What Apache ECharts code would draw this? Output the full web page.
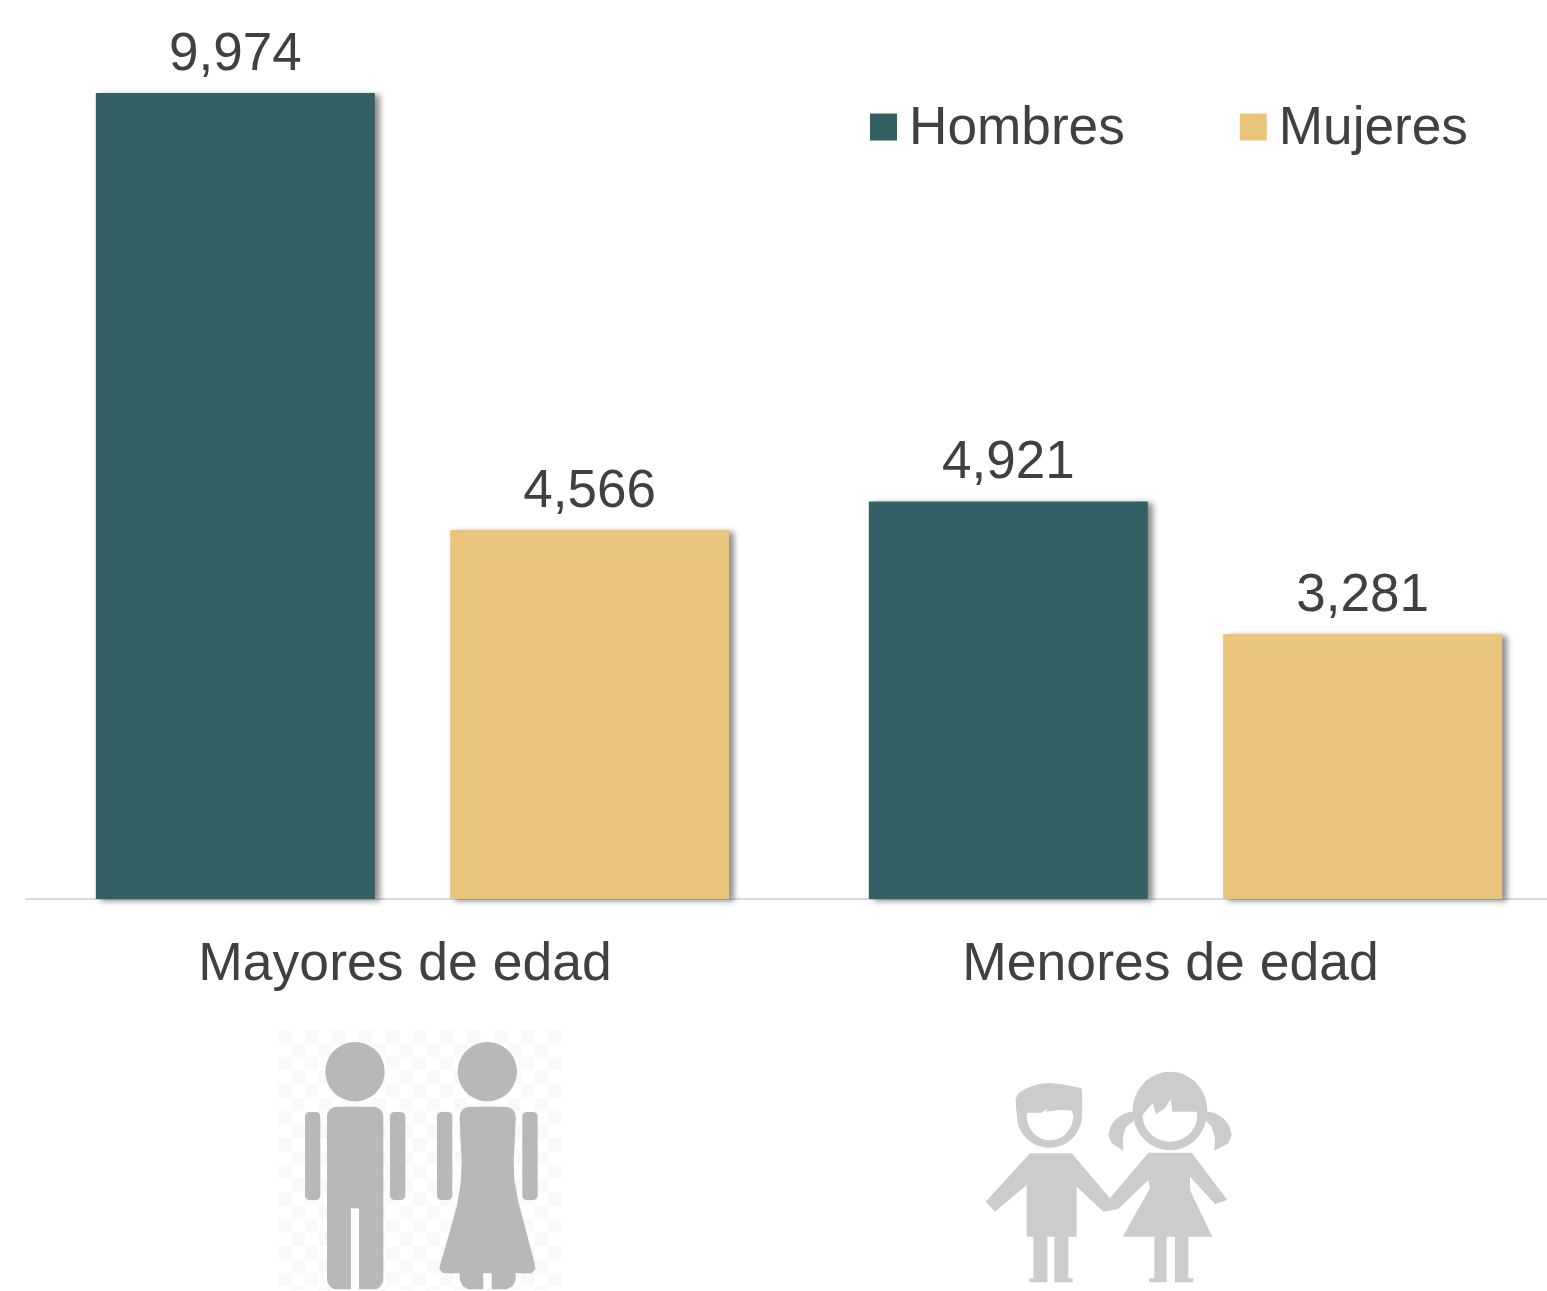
<!DOCTYPE html>
<html>
<head>
<meta charset="utf-8">
<style>html,body{margin:0;padding:0;background:#fff}#c{width:1547px;height:1291px}</style>
<script src="https://cdn.jsdelivr.net/npm/echarts@6/dist/echarts.min.js"></script>
</head>
<body>
<div id="c"></div>
<script>
const categories = ['Mayores de edad', 'Menores de edad'];
const hombres = [9974, 4921];
const mujeres = [4566, 3281];
const seriesNames = ['Hombres', 'Mujeres'];
const FONT = '"Liberation Sans", Arial, sans-serif';
const TEXT = '#404040';

const chart = echarts.init(document.getElementById('c'), null, {renderer: 'canvas'});

const adult = '#b8b8b8', kid = '#cccccc';
function poly(points, fill) { return {type: 'polygon', shape: {points}, style: {fill}}; }
function rrect(x, y, width, height, r, fill) { return {type: 'rect', shape: {x, y, width, height, r}, style: {fill}}; }
function arc(cx, cy, rx, ry, from, to) {
  const pts = [];
  for (let i = 0; i <= 36; i++) { const a = (from + (to - from) * i / 36) * Math.PI / 180; pts.push([cx + rx * Math.cos(a), cy + ry * Math.sin(a)]); }
  return pts;
}
function ell(cx, cy, rx, ry, fill) { return poly(arc(cx, cy, rx, ry, 0, 360), fill); }

// Faint checkered backdrop of the adults' pictogram
const checks = [];
for (let r = 0; r < 20; r++) for (let c = 0; c < 21; c++) {
  if ((r + c) % 2 === 0) checks.push({type: 'rect',
    shape: {x: 278 + c * 13.5, y: 1030 + r * 13.5, width: Math.min(13.5, 562 - (278 + c * 13.5)), height: Math.min(13.5, 1290 - (1030 + r * 13.5))},
    style: {fill: '#f9f9f9'}});
}

const adults = {type: 'group', x: 270, y: 1020, scaleX: 1 / 3, scaleY: 1 / 3, children: [
  ell(255, 155, 89, 89, adult),
  rrect(105, 276, 46, 264, 14, adult),
  rrect(360, 276, 46, 264, 14, adult),
  rrect(171, 260, 169, 548, 30, adult),
  rrect(243, 565, 24, 250, 0, '#ffffff'),
  ell(652, 155, 89, 89, adult),
  rrect(501, 276, 46, 264, 14, adult),
  rrect(757, 276, 46, 264, 14, adult),
  rrect(569, 260, 168, 70, 30, adult),
  poly([[569, 295], [737, 295], [735, 350], [731, 420], [733, 480], [745, 545], [770, 640], [795, 735], [796, 748], [785, 760],
        [737, 760], [737, 780], [728, 798], [710, 808], [665, 808], [665, 760], [640, 760], [640, 808], [596, 808], [578, 798],
        [569, 780], [569, 760], [520, 760], [508, 748], [510, 735], [535, 650], [560, 560], [572, 490], [575, 420], [571, 350]], adult)
]};

const kids = {type: 'group', x: 970, y: 1060, scaleX: 1 / 3, scaleY: 1 / 3, children: [
  // boy
  poly([[137, 115], [147, 98], [170, 85], [205, 72], [240, 69], [290, 75], [335, 85], [337, 120], ...arc(238, 165, 98, 98, 0, 165), [138, 140]], kid),
  poly([[170, 165], [172, 158], [215, 158], [232, 145], [228, 155], [270, 150], [305, 152], [310, 165], ...arc(240, 165, 70, 76, 0, 180)], '#ffffff'),
  poly([[180, 280], [305, 280], [420, 415], [445, 447], [400, 455], [320, 380], [320, 530], [295, 530], [295, 655], [308, 655], [308, 667], [253, 667], [253, 530], [232, 530], [232, 667], [178, 667], [178, 655], [190, 655], [190, 530], [170, 530], [170, 375], [75, 455], [47, 425]], kid),
  // girl
  poly([[495, 153], [465, 160], [440, 175], [422, 198], [415, 225], [425, 250], [460, 272], [458, 235], [468, 200], [495, 180]], kid),
  poly([[705, 153], [735, 160], [760, 175], [778, 198], [785, 225], [775, 250], [733, 272], [735, 235], [725, 200], [705, 180]], kid),
  ell(600, 153, 112, 118, kid),
  poly([[518, 165], [530, 150], [548, 130], [558, 163], [585, 145], [602, 118], [607, 155], [680, 155], ...arc(600, 165, 82, 80, 0, 180)], '#ffffff'),
  poly([[535, 278], [665, 278], [772, 420], [735, 432], [660, 350], [660, 390], [727, 530], [655, 530], [655, 655], [670, 655], [670, 667], [615, 667], [615, 530], [590, 530], [590, 667], [537, 667], [537, 655], [553, 655], [553, 530], [458, 530], [540, 385], [535, 360], [445, 447], [420, 415]], kid)
]};

function barSeries(name, data, color) {
  return {
    name, type: 'bar', data, barWidth: 279, barGap: '27%',
    itemStyle: {color, shadowColor: 'rgba(0,0,0,0.45)', shadowBlur: 6, shadowOffsetX: 5, shadowOffsetY: 2},
    label: {show: true, position: 'top', distance: 11, fontFamily: FONT, fontSize: 53, color: TEXT,
      formatter: p => p.value.toLocaleString('en-US')}
  };
}

chart.setOption({
  animation: false,
  backgroundColor: '#ffffff',
  textStyle: {fontFamily: FONT},
  grid: {left: 26, width: 1546, top: 91, height: 808, outerBoundsMode: 'none'},
  legend: {
    data: seriesNames, left: 870, top: 103, padding: 0, itemWidth: 27, itemHeight: 27, itemGap: 115,
    icon: 'rect', formatter: n => '{t|' + n + '}',
    textStyle: {fontFamily: FONT, fontSize: 53.2, color: TEXT, padding: [0, 0, 0, 7],
      rich: {t: {fontFamily: FONT, fontSize: 53.2, color: TEXT, padding: [5, 0, 0, 0]}}}
  },
  xAxis: {
    type: 'category',
    data: [
      {value: categories[0], textStyle: {padding: [0, 15, 0, 0]}},
      {value: categories[1], textStyle: {padding: [0, 30, 0, 0]}}
    ],
    axisLine: {lineStyle: {color: '#d9d9d9', width: 2}},
    axisTick: {show: false},
    axisLabel: {interval: 0, fontFamily: FONT, fontSize: 53.5, color: TEXT, margin: 39}
  },
  yAxis: {type: 'value', min: 0, max: 10000, show: false, splitLine: {show: false}},
  series: [barSeries(seriesNames[0], hombres, '#336064'), barSeries(seriesNames[1], mujeres, '#e9c47a')],
  graphic: {elements: [...checks, adults, kids]}
});
</script>
</body>
</html>
